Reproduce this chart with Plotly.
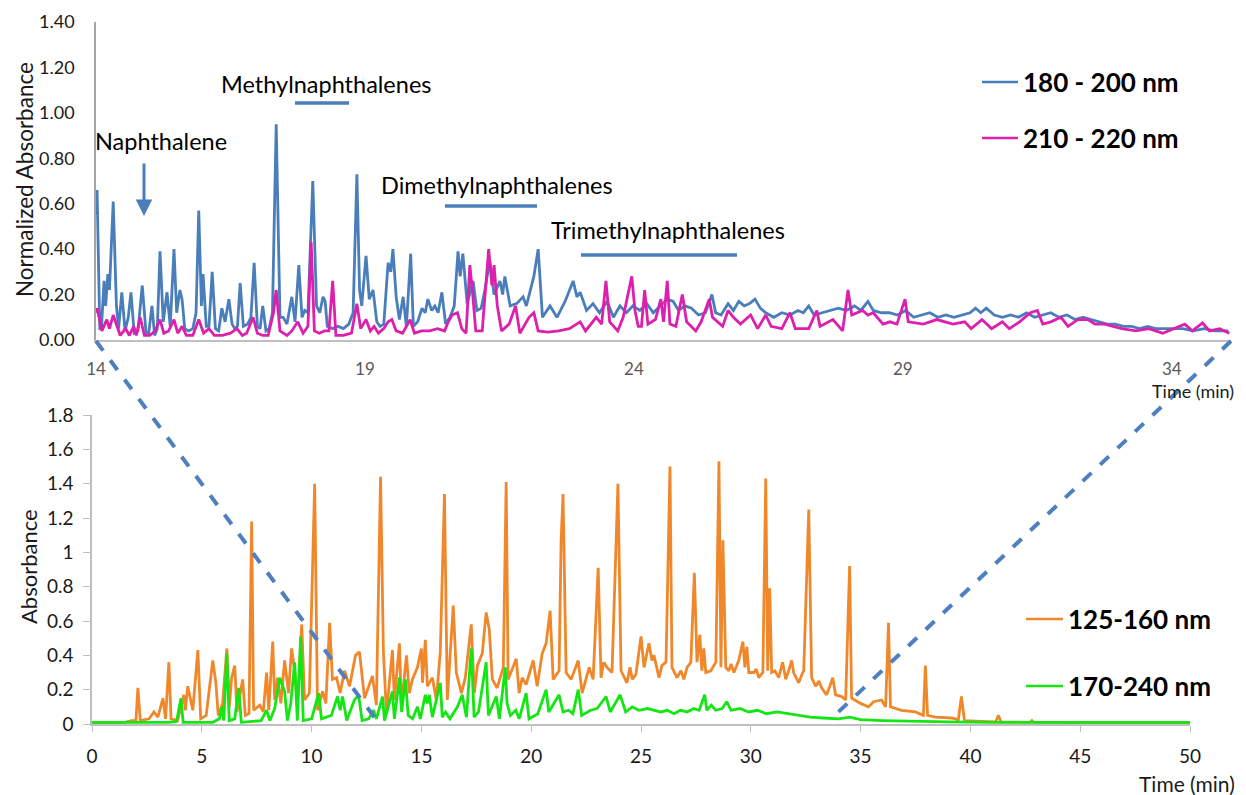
import plotly.graph_objects as go

# ---------------- DATA ----------------
# Top panel: 180 - 200 nm (normalized)
blue_t = [14.00, 14.02, 14.07, 14.10, 14.15, 14.18, 14.22, 14.25, 14.32, 14.38, 14.42, 14.48, 14.54, 14.60,
          14.65, 14.71, 14.78, 14.86, 14.93, 14.98, 15.04, 15.09, 15.14, 15.19, 15.25, 15.32, 15.38, 15.45,
          15.50, 15.56, 15.60, 15.65, 15.72, 15.80, 15.86, 15.91, 15.96, 15.99, 16.05, 16.10, 16.16, 16.22,
          16.28, 16.34, 16.40, 16.47, 16.53, 16.58, 16.63, 16.68, 16.74, 16.82, 16.88, 16.94, 17.00, 17.05,
          17.10, 17.16, 17.22, 17.28, 17.35, 17.42, 17.48, 17.55, 17.64, 17.70, 17.77, 17.83, 17.88, 17.94,
          18.03, 18.10, 18.16, 18.22, 18.26, 18.30, 18.40, 18.50, 18.60, 18.70, 18.78, 18.85, 18.90, 18.94,
          19.02, 19.08, 19.15, 19.22, 19.28, 19.35, 19.43, 19.48, 19.52, 19.58, 19.64, 19.71, 19.77, 19.85,
          19.90, 19.98, 20.06, 20.12, 20.17, 20.24, 20.30, 20.36, 20.43, 20.50, 20.58, 20.66, 20.73, 20.77,
          20.82, 20.90, 21.01, 21.08, 21.16, 21.23, 21.32, 21.40, 21.51, 21.56, 21.60, 21.70, 21.82, 21.94,
          22.00, 22.07, 22.14, 22.22, 22.30, 22.44, 22.57, 22.72, 22.87, 22.94, 23.00, 23.12, 23.24, 23.36,
          23.50, 23.62, 23.74, 23.86, 23.98, 24.11, 24.24, 24.36, 24.49, 24.62, 24.73, 24.83, 24.95, 25.07,
          25.20, 25.33, 25.45, 25.52, 25.62, 25.75, 25.85, 25.95, 26.05, 26.15, 26.25, 26.35, 26.45, 26.60,
          26.75, 26.90, 27.05, 27.15, 27.25, 27.35, 27.50, 27.65, 27.80, 27.95, 28.10, 28.22, 28.35, 28.45,
          28.60, 28.75, 28.90, 29.05, 29.20, 29.35, 29.50, 29.65, 29.80, 29.95, 30.10, 30.25, 30.35, 30.45,
          30.55, 30.70, 30.85, 31.00, 31.15, 31.30, 31.45, 31.60, 31.75, 31.90, 32.05, 32.20, 32.35, 32.50,
          32.65, 32.80, 32.95, 33.10, 33.25, 33.40, 33.55, 33.70, 33.85, 34.00, 34.20, 34.40, 34.60, 34.80,
          35.05]
blue_v = [0.55, 0.66, 0.05, 0.05, 0.26, 0.15, 0.29, 0.22, 0.61, 0.15, 0.05, 0.21, 0.04, 0.10,
          0.21, 0.03, 0.04, 0.24, 0.03, 0.03, 0.15, 0.02, 0.05, 0.39, 0.08, 0.21, 0.06, 0.40,
          0.12, 0.22, 0.18, 0.05, 0.04, 0.05, 0.12, 0.57, 0.15, 0.29, 0.06, 0.06, 0.30, 0.05,
          0.04, 0.14, 0.08, 0.18, 0.07, 0.05, 0.06, 0.25, 0.06, 0.07, 0.10, 0.34, 0.06, 0.05,
          0.15, 0.04, 0.05, 0.12, 0.95, 0.10, 0.10, 0.07, 0.19, 0.08, 0.33, 0.10, 0.13, 0.12,
          0.70, 0.15, 0.12, 0.19, 0.17, 0.06, 0.05, 0.06, 0.05, 0.07, 0.12, 0.73, 0.22, 0.15,
          0.37, 0.18, 0.22, 0.08, 0.06, 0.07, 0.34, 0.30, 0.40, 0.19, 0.09, 0.19, 0.06, 0.38,
          0.06, 0.08, 0.14, 0.12, 0.18, 0.13, 0.15, 0.12, 0.21, 0.07, 0.10, 0.15, 0.39, 0.28,
          0.38, 0.16, 0.26, 0.13, 0.14, 0.22, 0.35, 0.20, 0.26, 0.20, 0.28, 0.15, 0.16, 0.19,
          0.15, 0.21, 0.28, 0.40, 0.10, 0.15, 0.10, 0.17, 0.26, 0.19, 0.21, 0.13, 0.16, 0.12,
          0.17, 0.10, 0.15, 0.12, 0.15, 0.13, 0.16, 0.12, 0.15, 0.18, 0.17, 0.13, 0.15, 0.14,
          0.11, 0.12, 0.20, 0.12, 0.11, 0.16, 0.13, 0.17, 0.15, 0.16, 0.18, 0.14, 0.12, 0.10,
          0.12, 0.11, 0.13, 0.12, 0.15, 0.11, 0.12, 0.13, 0.14, 0.13, 0.15, 0.13, 0.17, 0.13,
          0.12, 0.12, 0.11, 0.13, 0.10, 0.11, 0.12, 0.10, 0.11, 0.10, 0.11, 0.12, 0.14, 0.12,
          0.14, 0.11, 0.10, 0.11, 0.10, 0.12, 0.10, 0.11, 0.12, 0.10, 0.11, 0.09, 0.10, 0.09,
          0.08, 0.07, 0.07, 0.06, 0.06, 0.05, 0.06, 0.05, 0.05, 0.05, 0.05, 0.04, 0.05, 0.04,
          0.04]

# Top panel: 210 - 220 nm (normalized)
mag_t = [14.00, 14.02, 14.11, 14.20, 14.25, 14.32, 14.45, 14.55, 14.62, 14.70, 14.75, 14.82, 14.90, 15.00,
         15.10, 15.19, 15.26, 15.35, 15.45, 15.52, 15.60, 15.68, 15.80, 15.91, 16.00, 16.10, 16.20, 16.35,
         16.50, 16.62, 16.72, 16.80, 16.92, 17.00, 17.10, 17.20, 17.30, 17.35, 17.42, 17.55, 17.64, 17.75,
         17.85, 17.94, 18.00, 18.06, 18.15, 18.25, 18.33, 18.40, 18.46, 18.60, 18.75, 18.85, 18.92, 19.02,
         19.10, 19.17, 19.25, 19.35, 19.43, 19.50, 19.58, 19.70, 19.84, 19.92, 20.05, 20.20, 20.35, 20.48,
         20.55, 20.62, 20.72, 20.80, 20.88, 20.95, 21.00, 21.06, 21.18, 21.30, 21.36, 21.40, 21.46, 21.54,
         21.68, 21.80, 21.88, 22.05, 22.14, 22.22, 22.40, 22.60, 22.80, 23.00, 23.10, 23.30, 23.40, 23.48,
         23.55, 23.70, 23.80, 23.96, 24.02, 24.08, 24.14, 24.20, 24.26, 24.40, 24.50, 24.55, 24.62, 24.67,
         24.78, 24.90, 24.98, 25.15, 25.25, 25.40, 25.46, 25.65, 25.75, 25.85, 25.98, 26.17, 26.30, 26.45,
         26.55, 26.75, 26.90, 27.00, 27.25, 27.40, 27.46, 27.70, 27.88, 27.98, 28.05, 28.25, 28.35, 28.45,
         28.63, 28.76, 28.89, 29.04, 29.10, 29.38, 29.63, 29.93, 30.15, 30.27, 30.47, 30.65, 30.85, 30.98,
         31.17, 31.37, 31.50, 31.60, 31.75, 31.94, 32.07, 32.25, 32.44, 32.57, 32.75, 33.07, 33.33, 33.57,
         33.83, 34.02, 34.24, 34.38, 34.57, 34.70, 34.89, 35.07]
mag_v = [0.12, 0.14, 0.04, 0.09, 0.05, 0.11, 0.02, 0.05, 0.02, 0.06, 0.02, 0.10, 0.02, 0.02,
         0.04, 0.09, 0.03, 0.04, 0.09, 0.03, 0.06, 0.02, 0.02, 0.09, 0.03, 0.05, 0.02, 0.02,
         0.03, 0.05, 0.02, 0.03, 0.10, 0.03, 0.02, 0.02, 0.12, 0.22, 0.04, 0.02, 0.04, 0.08,
         0.03, 0.06, 0.43, 0.04, 0.03, 0.04, 0.04, 0.26, 0.02, 0.02, 0.03, 0.16, 0.05, 0.09,
         0.04, 0.06, 0.03, 0.05, 0.08, 0.09, 0.04, 0.03, 0.09, 0.03, 0.04, 0.04, 0.05, 0.04,
         0.08, 0.11, 0.12, 0.05, 0.03, 0.33, 0.21, 0.04, 0.04, 0.40, 0.24, 0.33, 0.15, 0.04,
         0.07, 0.15, 0.03, 0.10, 0.12, 0.04, 0.035, 0.04, 0.05, 0.08, 0.04, 0.10, 0.07, 0.26,
         0.08, 0.04, 0.10, 0.28, 0.13, 0.06, 0.06, 0.22, 0.07, 0.09, 0.18, 0.08, 0.26, 0.07,
         0.06, 0.20, 0.08, 0.04, 0.08, 0.18, 0.10, 0.06, 0.13, 0.10, 0.07, 0.11, 0.05, 0.11,
         0.06, 0.05, 0.12, 0.05, 0.05, 0.13, 0.06, 0.09, 0.04, 0.22, 0.11, 0.13, 0.11, 0.12,
         0.07, 0.08, 0.07, 0.18, 0.08, 0.07, 0.09, 0.07, 0.08, 0.05, 0.09, 0.05, 0.08, 0.05,
         0.08, 0.12, 0.13, 0.07, 0.08, 0.10, 0.06, 0.09, 0.09, 0.07, 0.07, 0.05, 0.04, 0.05,
         0.03, 0.05, 0.07, 0.04, 0.075, 0.04, 0.05, 0.03]

# Bottom panel: 125-160 nm
orange_t = [0.0, 1.5, 1.8, 2.0, 2.09, 2.2, 2.6, 2.82, 3.0, 3.23, 3.35, 3.50, 3.6, 3.9, 4.18, 4.25, 4.36, 4.59,
            4.82, 4.95, 5.2, 5.50, 5.64, 5.75, 5.95, 6.14, 6.25, 6.36, 6.50, 6.6, 6.86, 6.98, 7.15, 7.27,
            7.36, 7.64, 7.8, 7.95, 8.05, 8.23, 8.32, 8.45, 8.6, 8.77, 8.95, 9.09, 9.23, 9.35, 9.55, 9.68,
            9.9, 10.14, 10.27, 10.5, 10.65, 10.82, 10.95, 11.14, 11.3, 11.5, 11.73, 12.0, 12.18, 12.41,
            12.77, 12.95, 13.14, 13.27, 13.41, 13.68, 13.77, 14.0, 14.09, 14.32, 14.45, 14.59, 14.82, 15.0,
            15.05, 15.18, 15.27, 15.5, 15.68, 15.86, 16.05, 16.18, 16.45, 16.59, 16.82, 17.0, 17.27, 17.41,
            17.55, 17.77, 17.95, 18.09, 18.23, 18.45, 18.73, 18.86, 18.95, 19.32, 19.45, 19.59, 19.77, 20.09,
            20.27, 20.5, 20.68, 20.86, 21.0, 21.27, 21.36, 21.45, 21.59, 21.82, 22.14, 22.32, 22.64, 22.82,
            23.05, 23.18, 23.3, 23.45, 23.68, 23.95, 24.09, 24.36, 24.5, 24.6, 24.77, 25.0, 25.14, 25.36, 25.5,
            25.59, 25.82, 25.95, 26.14, 26.32, 26.41, 26.64, 26.82, 26.95, 27.1, 27.27, 27.43, 27.55, 27.68,
            27.77, 27.86, 27.95, 28.18, 28.3, 28.41, 28.55, 28.64, 28.73, 28.86, 29.0, 29.1, 29.23, 29.45,
            29.64, 29.73, 29.82, 29.91, 30.14, 30.25, 30.36, 30.55, 30.68, 30.77, 30.86, 30.95, 31.1, 31.27,
            31.45, 31.59, 31.75, 31.86, 31.95, 32.18, 32.3, 32.41, 32.64, 32.77, 32.95, 33.1, 33.23, 33.45,
            33.6, 33.73, 33.86, 34.14, 34.32, 34.5, 34.59, 35.0, 35.36, 35.59, 35.95, 36.14, 36.27, 36.36,
            36.86, 37.5, 37.86, 37.95, 38.05, 38.41, 39.14, 39.45, 39.59, 39.73, 40.5, 41.15, 41.27, 41.4,
            42.7, 42.8, 42.9, 45.0, 50.0]
orange_v = [0.005, 0.01, 0.02, 0.02, 0.21, 0.02, 0.03, 0.07, 0.04, 0.15, 0.03, 0.36, 0.03, 0.02, 0.17, 0.08, 0.22, 0.08,
            0.43, 0.03, 0.05, 0.37, 0.24, 0.05, 0.12, 0.44, 0.10, 0.27, 0.34, 0.07, 0.26, 0.05, 0.06, 1.18,
            0.08, 0.11, 0.07, 0.30, 0.08, 0.48, 0.14, 0.27, 0.12, 0.37, 0.18, 0.44, 0.31, 0.10, 0.58, 0.14,
            0.18, 1.40, 0.08, 0.19, 0.12, 0.59, 0.26, 0.27, 0.18, 0.31, 0.22, 0.40, 0.42, 0.15,
            0.28, 0.11, 1.44, 0.42, 0.06, 0.43, 0.14, 0.47, 0.10, 0.40, 0.18, 0.26, 0.33, 0.44,
            0.24, 0.49, 0.22, 0.27, 0.14, 0.42, 1.34, 0.14, 0.69, 0.30, 0.18, 0.27, 0.58, 0.18,
            0.34, 0.41, 0.65, 0.55, 0.26, 0.21, 0.33, 1.41, 0.26, 0.38, 0.18, 0.27, 0.23, 0.37,
            0.22, 0.41, 0.47, 0.66, 0.26, 0.31, 1.06, 1.34, 0.30, 0.26, 0.37, 0.18, 0.33, 0.26,
            0.91, 0.27, 0.36, 0.33, 0.30, 1.40, 0.31, 0.24, 0.33, 0.26, 0.29, 0.51, 0.33, 0.47, 0.37,
            0.40, 0.27, 0.34, 0.36, 1.50, 0.33, 0.27, 0.31, 0.26, 0.33, 0.36, 0.88, 0.36, 0.52,
            0.31, 0.44, 0.30, 0.31, 0.34, 0.36, 1.53, 0.33, 1.07, 0.33, 0.31, 0.35, 0.30, 0.37,
            0.48, 0.33, 0.45, 0.30, 0.30, 0.32, 0.27, 0.30, 1.43, 0.31, 0.79, 0.30, 0.31, 0.27,
            0.36, 0.26, 0.32, 0.37, 0.30, 0.24, 0.28, 0.31, 1.25, 0.27, 0.22, 0.25, 0.21, 0.17,
            0.22, 0.27, 0.17, 0.16, 0.14, 0.92, 0.15, 0.12, 0.10, 0.13, 0.14, 0.10, 0.59, 0.10,
            0.08, 0.07, 0.05, 0.34, 0.05, 0.04, 0.035, 0.025, 0.16, 0.02, 0.015, 0.012, 0.05, 0.012,
            0.01, 0.02, 0.01, 0.008, 0.006]

# Bottom panel: 170-240 nm
green_t = [0.0, 3.5, 3.85, 4.05, 4.15, 5.5, 5.8, 5.91, 6.0, 6.14, 6.25, 6.5, 6.68, 6.8, 7.3, 7.7, 7.95, 8.1,
           8.32, 8.55, 8.77, 8.9, 9.05, 9.23, 9.35, 9.50, 9.62, 10.0, 10.32, 10.45, 10.9, 11.18, 11.3, 11.41,
           11.6, 11.95, 12.14, 12.3, 12.6, 12.82, 12.95, 13.23, 13.32, 13.68, 13.77, 14.0, 14.1, 14.27, 14.4,
           14.6, 14.82, 14.95, 15.18, 15.27, 15.36, 15.5, 15.86, 15.95, 16.1, 16.3, 16.64, 16.86, 17.05,
           17.27, 17.4, 17.6, 17.95, 18.05, 18.41, 18.55, 18.82, 18.9, 19.05, 19.3, 19.45, 19.77, 19.9,
           20.3, 20.68, 20.8, 21.27, 21.45, 21.7, 21.9, 22.14, 22.3, 22.7, 23.0, 23.41, 23.6, 24.05, 24.3,
           24.6, 24.9, 25.3, 25.6, 25.9, 26.2, 26.5, 26.8, 27.1, 27.4, 27.65, 27.9, 28.0, 28.2, 28.4, 28.7,
           28.9, 29.1, 29.5, 29.9, 30.3, 30.7, 31.2, 31.7, 32.2, 32.7, 33.3, 34.0, 34.5, 35.0, 36.0, 37.5,
           39.0, 41.0, 50.0]
green_v = [0.01, 0.01, 0.015, 0.15, 0.01, 0.01, 0.03, 0.10, 0.02, 0.41, 0.02, 0.03, 0.21, 0.01, 0.015, 0.02, 0.08, 0.02,
           0.09, 0.27, 0.19, 0.02, 0.12, 0.36, 0.02, 0.51, 0.02, 0.03, 0.18, 0.03, 0.05, 0.16, 0.08, 0.16,
           0.02, 0.14, 0.17, 0.02, 0.03, 0.08, 0.03, 0.16, 0.02, 0.19, 0.03, 0.27, 0.07, 0.26, 0.05,
           0.03, 0.10, 0.03, 0.17, 0.12, 0.17, 0.04, 0.24, 0.04, 0.07, 0.03, 0.10, 0.17, 0.04,
           0.44, 0.04, 0.07, 0.36, 0.05, 0.16, 0.03, 0.33, 0.12, 0.05, 0.08, 0.03, 0.18, 0.03,
           0.06, 0.20, 0.07, 0.17, 0.07, 0.08, 0.06, 0.20, 0.05, 0.08, 0.09, 0.16, 0.07, 0.17, 0.07,
           0.10, 0.08, 0.09, 0.08, 0.07, 0.08, 0.06, 0.08, 0.07, 0.09, 0.08, 0.17, 0.08, 0.11, 0.08, 0.09,
           0.13, 0.08, 0.09, 0.07, 0.08, 0.06, 0.07, 0.06, 0.05, 0.04, 0.035, 0.03, 0.04, 0.025, 0.02, 0.015,
           0.012, 0.01, 0.01]

top_series = ["180 - 200 nm", "210 - 220 nm"]
bottom_series = ["125-160 nm", "170-240 nm"]
top_ticks = [14, 19, 24, 29, 34]
bottom_ticks = [0, 5, 10, 15, 20, 25, 30, 35, 40, 45, 50]
compound_labels = ["Naphthalene", "Methylnaphthalenes", "Dimethylnaphthalenes", "Trimethylnaphthalenes"]

# ---------------- STYLE ----------------
W, H = 1246, 795
BLUE = "#4a7ebb"
MAGENTA = "#dd1fae"
ORANGE = "#f0882b"
GREEN = "#14e614"
FONT = "Lato"


def px(x):
    return x / W


def py(y):
    return 1 - y / H


fig = go.Figure()
fig.add_trace(go.Scatter(x=blue_t, y=blue_v, mode="lines", name=top_series[0],
                         line=dict(color=BLUE, width=2.8), xaxis="x", yaxis="y"))
fig.add_trace(go.Scatter(x=mag_t, y=mag_v, mode="lines", name=top_series[1],
                         line=dict(color=MAGENTA, width=2.8), xaxis="x", yaxis="y"))
fig.add_trace(go.Scatter(x=orange_t, y=orange_v, mode="lines", name=bottom_series[0],
                         line=dict(color=ORANGE, width=2.8), xaxis="x2", yaxis="y2"))
fig.add_trace(go.Scatter(x=green_t, y=green_v, mode="lines", name=bottom_series[1],
                         line=dict(color=GREEN, width=2.8), xaxis="x2", yaxis="y2"))

axis_gray = "#bfbfbf"
fig.update_layout(
    width=W, height=H, margin=dict(l=0, r=0, t=0, b=0, autoexpand=False),
    paper_bgcolor="white", plot_bgcolor="rgba(0,0,0,0)",
    showlegend=False,
    font=dict(family=FONT, color="#000000"),
    xaxis=dict(domain=[px(96), px(1231)], range=[14, 35.1], anchor="y", automargin=False,
               tickvals=top_ticks, ticks="outside", ticklen=13, tickcolor="rgba(0,0,0,0)",
               tickfont=dict(size=17, color="#595959"), showgrid=False, zeroline=False,
               showline=True, linecolor=axis_gray, linewidth=1.5),
    yaxis=dict(domain=[py(340), py(22)], range=[0, 1.4], anchor="x", automargin=False,
               dtick=0.2, tickformat=".2f", ticks="", ticklabelstandoff=16,
               tickfont=dict(size=18, color="#1a1a1a"), showgrid=False, zeroline=False,
               showline=True, linecolor="#a6a6a6", linewidth=1.5),
    xaxis2=dict(domain=[px(92), px(1190)], range=[0, 50], anchor="y2", automargin=False,
                tickvals=bottom_ticks, ticks="outside", ticklen=6, tickcolor=axis_gray,
                ticklabelstandoff=8,
                tickfont=dict(size=19, color="#1a1a1a"), showgrid=False, zeroline=False,
                showline=True, linecolor=axis_gray, linewidth=1.5),
    yaxis2=dict(domain=[py(724), py(415)], range=[0, 1.8], anchor="x2", automargin=False,
                dtick=0.2, ticks="outside", ticklen=7, tickcolor=axis_gray, ticklabelstandoff=6,
                tickfont=dict(size=19, color="#1a1a1a"), showgrid=False, zeroline=False,
                showline=True, linecolor=axis_gray, linewidth=1.5),
)

ann = []
shapes = []


def text_ann(text, x, y, size, color="#000000", angle=0, xanchor="center"):
    return dict(text=text, x=px(x), y=py(y), xref="paper", yref="paper", xanchor=xanchor,
                yanchor="middle", textangle=angle, showarrow=False,
                font=dict(size=size, color=color))


# axis titles
ann.append(text_ann("Normalized Absorbance", 25, 180, 22.5, "#1a1a1a", -90))
ann.append(text_ann("Absorbance", 28, 567, 22, "#1a1a1a", -90))
ann.append(text_ann("Time (min)", 1193, 391, 18, "#1a1a1a"))
ann.append(text_ann("Time (min)", 1187, 783, 21, "#1a1a1a"))

# compound labels
label_pos = [(161, 141), (326, 84), (497, 185), (668, 230)]
for lab, (lx, ly) in zip(compound_labels, label_pos):
    ann.append(text_ann(lab, lx, ly, 23.5))

# bars under labels
for (x0, x1, yb) in [(295, 349, 103), (445, 537, 206), (581, 737, 255)]:
    shapes.append(dict(type="line", xref="paper", yref="paper", x0=px(x0), x1=px(x1), y0=py(yb), y1=py(yb),
                       line=dict(color=BLUE, width=3.5)))

# arrow to naphthalene
ann.append(dict(text="", x=px(144), y=py(216), xref="paper", yref="paper", showarrow=True,
                ax=0, ay=-54, arrowcolor=BLUE, arrowwidth=3, arrowhead=2, arrowsize=1.1))

# legends (manual)
legend_items = [(top_series[0], BLUE, 982, 1018, 82), (top_series[1], MAGENTA, 982, 1018, 138),
                (bottom_series[0], ORANGE, 1026, 1063, 619), (bottom_series[1], GREEN, 1026, 1063, 686)]
for name, col, x0, x1, yy in legend_items:
    shapes.append(dict(type="line", xref="paper", yref="paper", x0=px(x0), x1=px(x1), y0=py(yy), y1=py(yy),
                       line=dict(color=col, width=2.5)))
    ann.append(text_ann("<b>%s</b>" % name, x1 + 3, yy, 26, xanchor="left"))

# zoom dashed lines
shapes.append(dict(type="line", xref="paper", yref="paper", x0=px(96), y0=py(341), x1=px(375), y1=py(718),
                   line=dict(color="#4f7fbe", width=4, dash="dash")))
shapes.append(dict(type="line", xref="paper", yref="paper", x0=px(1231), y0=py(341), x1=px(832), y1=py(718),
                   line=dict(color="#4f7fbe", width=4, dash="dash")))

fig.update_layout(annotations=ann, shapes=shapes)
fig.write_html("out.html")
